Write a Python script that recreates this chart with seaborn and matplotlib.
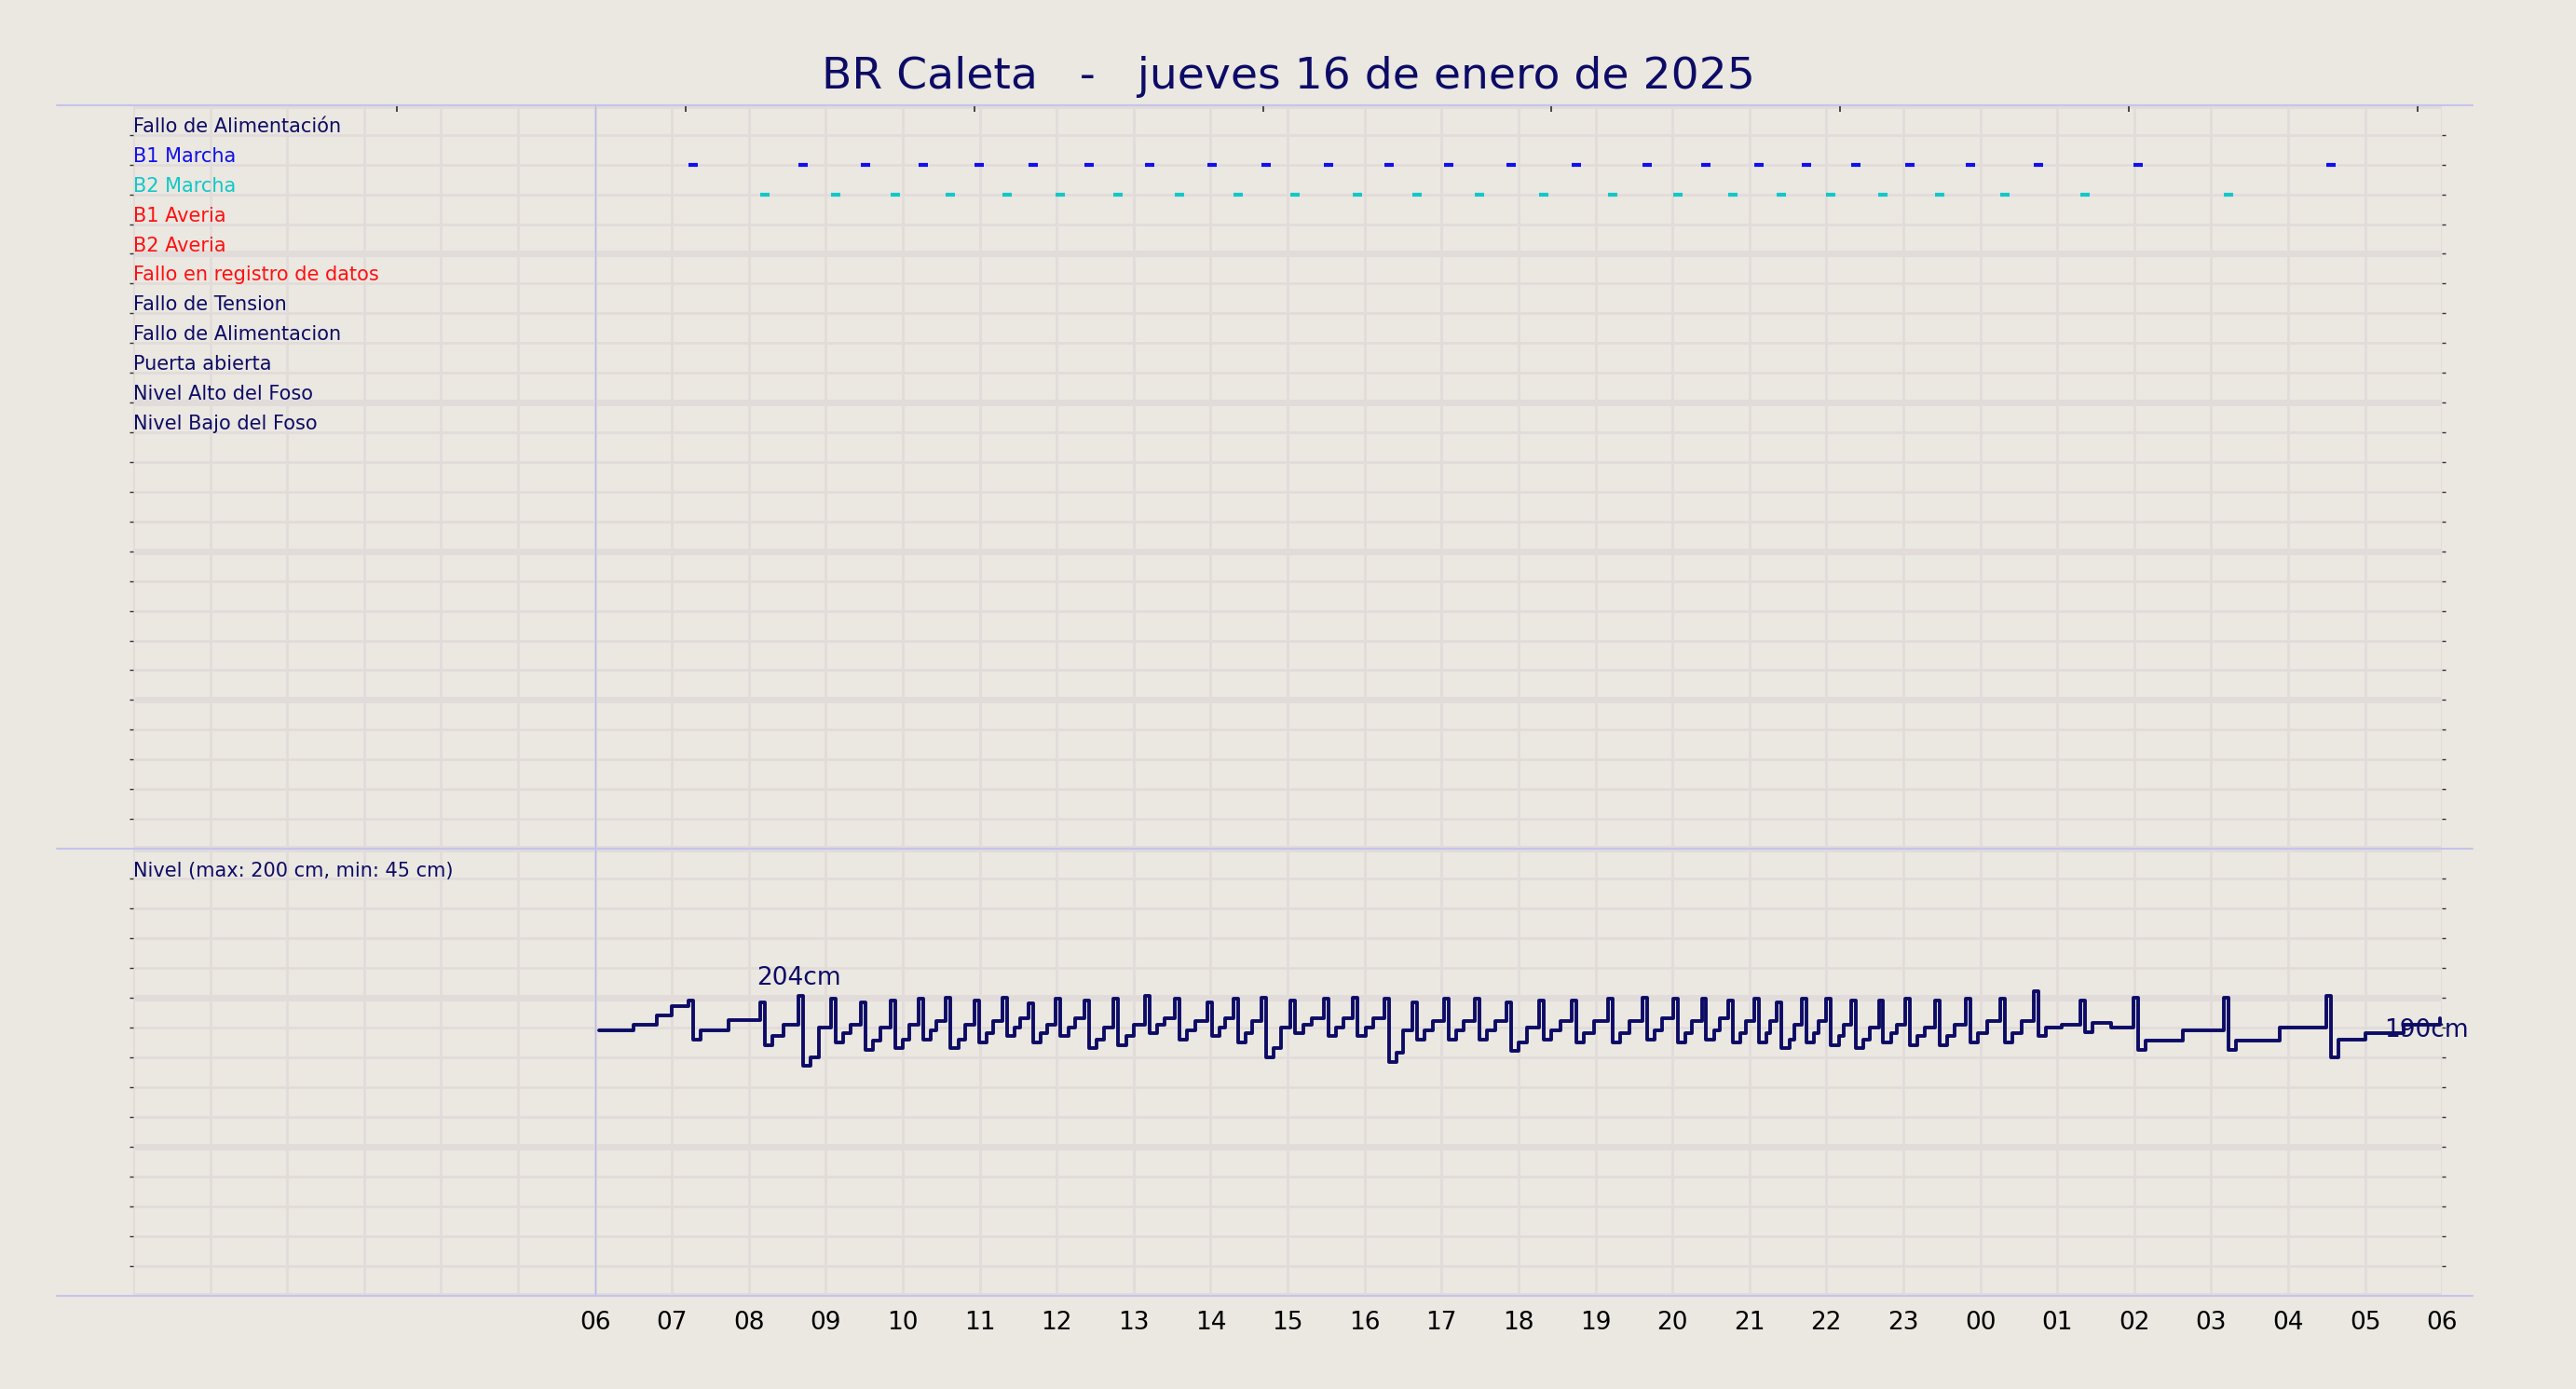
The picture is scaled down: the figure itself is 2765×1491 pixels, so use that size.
import matplotlib
matplotlib.use("Agg")
import matplotlib.pyplot as plt
import seaborn as sns
import pandas as pd
import numpy as np

sns.set_theme(style="white")
plt.rcParams['font.family'] = ['DejaVu Sans']

BG = '#ebe7e1'
NAVY = '#0c0c66'
GRID = '#e1dcda'

title = "BR Caleta   -   jueves 16 de enero de 2025"
row_labels = ["Fallo de Alimentación", "B1 Marcha", "B2 Marcha", "B1 Averia", "B2 Averia",
              "Fallo en registro de datos", "Fallo de Tension", "Fallo de Alimentacion",
              "Puerta abierta", "Nivel Alto del Foso", "Nivel Bajo del Foso"]
row_colors = [NAVY, '#1010ee', '#10c8c8', '#ff1010', '#ff1010', '#ff1010', NAVY, NAVY, NAVY, NAVY, NAVY]
tick_labels = ["06", "07", "08", "09", "10", "11", "12", "13", "14", "15", "16", "17", "18",
               "19", "20", "21", "22", "23", "00", "01", "02", "03", "04", "05", "06"]

# hours since 00:00 of the previous day axis (06 = 6 .. next 06 = 30)
b1_hours = [7.27, 8.70, 9.51, 10.26, 10.99, 11.69, 12.42, 13.21, 14.02, 14.72, 15.53, 16.32, 17.09,
            17.90, 18.75, 19.67, 20.44, 21.12, 21.74, 22.38, 23.08, 23.87, 24.75, 26.05, 28.56]
b2_hours = [8.21, 9.13, 9.90, 10.62, 11.35, 12.05, 12.80, 13.59, 14.36, 15.10, 15.91, 16.68, 17.49,
            18.33, 19.22, 20.07, 20.78, 21.42, 22.06, 22.74, 23.47, 24.32, 25.36, 27.22]

peaks = [198,197,201,199,197,198,199,200,198,200,196,199,198,199,201,199,197,199,200,198,199,200,199,197,
         199,199,197,198,198,199,200,199,199,198,199,197,199,199,198,198,199,198,199,199,204,198,200,200,201]
troughs = [172,168,154,170,165,166,172,166,170,174,170,174,166,168,176,172,174,170,160,176,174,174,157,172,
           172,172,164,172,170,170,172,170,172,170,170,166,170,168,166,170,168,168,170,170,174,177,165,165,160]
mids = [185,182,180,182,180,182,184,182,184,186,182,186,180,182,186,184,186,184,180,186,186,186,178,184,
        184,184,180,184,184,184,186,184,186,184,184,182,184,182,180,182,180,182,184,184,182,180,178,180,175]
start_hours = [6.05, 6.5, 6.8, 7.0]
start_cm = [178, 182, 188, 194]
end_hours = [28.65, 29.0, 29.5, 29.97]
end_cm = [172, 176, 182, 186]

events = sorted(b1_hours + b2_hours)
hs, vs = list(start_hours), list(start_cm)
for i, t in enumerate(events):
    prev = hs[-1]
    hs += [t - 0.06, t]
    vs += [peaks[i], troughs[i]]
    nxt = events[i + 1] if i + 1 < len(events) else 30
    hs += [t + 0.1, t + (nxt - t) * 0.5]
    vs += [troughs[i] + 6, mids[i]]
hs = hs[:-2]; vs = vs[:-2]
hs += end_hours; vs += end_cm
level = pd.DataFrame({"h": hs, "cm": vs})

W, H = 2765, 1491
fig = plt.figure(figsize=(W / 100, H / 100), dpi=100, facecolor=BG)
L, R = 0.0517, 0.948
ax1 = fig.add_axes([L, 0.389, R - L, 0.9243 - 0.389], facecolor=BG)
ax2 = fig.add_axes([L, 0.0674, R - L, 0.389 - 0.0674], facecolor=BG)

for ax in (ax1, ax2):
    ax.set_xlim(0, 30)
    for s in ax.spines.values():
        s.set_visible(False)
    for h in range(0, 31):
        ax.axvline(h, color=GRID, lw=2, zorder=0)
    ax.axvline(6, color='#b8b8e8', lw=1, zorder=1)
    ax.set_xticks([])

# top panel
ax1.set_ylim(25, 0)
for r in range(0, 26):
    ax1.axhline(r, color=GRID, lw=5 if r % 5 == 0 else 2, zorder=0)
for i, (lab, c) in enumerate(zip(row_labels, row_colors)):
    ax1.text(0.0, i + 0.72, lab, color=c, fontsize=15, va='center', ha='left')
df1 = pd.DataFrame({"h": b1_hours, "y": [2.0] * len(b1_hours)})
df2 = pd.DataFrame({"h": b2_hours, "y": [3.0] * len(b2_hours)})
sns.scatterplot(data=df1, x="h", y="y", ax=ax1, marker='_', s=60, color='#1010ee', linewidth=3, zorder=3)
sns.scatterplot(data=df2, x="h", y="y", ax=ax1, marker='_', s=60, color='#10c8c8', linewidth=3, zorder=3)
ax1.set_xlabel(""); ax1.set_ylabel("")
ax1.set_yticks(np.arange(1, 25))
ax1.tick_params(axis='y', which='both', left=True, right=True, labelleft=False, length=3, color='#333333', width=1)
ax1.set_xticks(np.arange(3.43, 30, 3.75))
ax1.tick_params(axis='x', top=True, bottom=False, labelbottom=False, length=5, direction='in', color='#333333')

# bottom panel
ax2.set_ylim(0, 300)
for v in range(0, 301, 20):
    ax2.axhline(v, color=GRID, lw=5 if v % 100 == 0 else 2, zorder=0)
sns.lineplot(data=level, x="h", y="cm", ax=ax2, color=NAVY, lw=2.8, drawstyle='steps-post', zorder=3)
ax2.set_xlabel(""); ax2.set_ylabel("")
ax2.set_yticks(np.arange(20, 300, 20))
ax2.tick_params(axis='y', left=True, right=True, labelleft=False, length=3, color='#333333', width=1)
ax2.set_xticks(np.arange(6, 31, 1))
ax2.set_xticklabels(tick_labels, fontsize=19, color='black')
ax2.tick_params(axis='x', bottom=True, length=0, pad=12)
ax2.text(0.0, 285, "Nivel (max: 200 cm, min: 45 cm)", color=NAVY, fontsize=15, va='center')
ax2.text(8.1, 213, "204cm", color=NAVY, fontsize=19, va='center')
ax2.text(29.8, 178, "190cm", color=NAVY, fontsize=19, va='center', ha='center')

for yf in (0.9243, 0.389, 0.0674):
    fig.add_artist(plt.Line2D([0.022, 0.96], [yf, yf], color='#c4c4ee', lw=1.5, transform=fig.transFigure))

fig.text(0.5, 0.945, title, color=NAVY, fontsize=34, ha='center', va='center')
fig.savefig("out.png", dpi=100, facecolor=BG)
